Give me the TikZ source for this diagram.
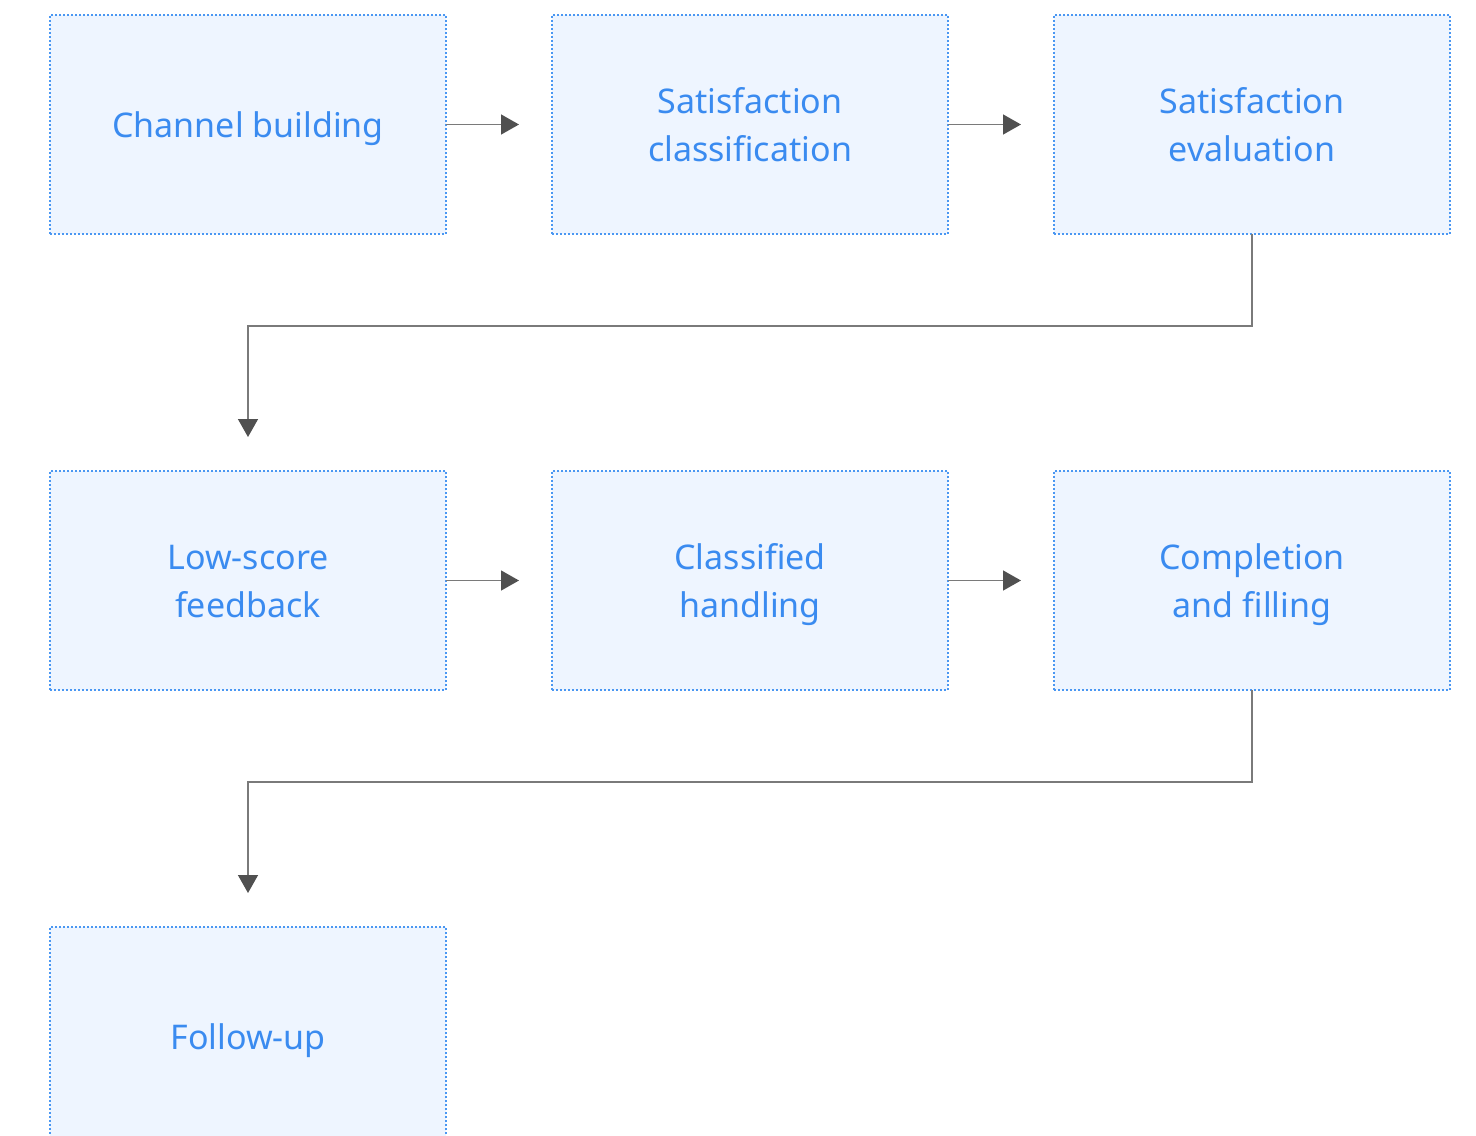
\documentclass[tikz,border=0pt]{standalone}
\usepackage{fontspec}
\setmainfont{Noto Sans}
\usepackage{xcolor}
\usetikzlibrary{arrows.meta, positioning}
\definecolor{boxfill}{HTML}{EEF5FF}
\definecolor{boxline}{HTML}{4A97F2}
\definecolor{boxtext}{HTML}{3A8BF0}
\definecolor{linegray}{HTML}{7A7A7A}
\definecolor{tipgray}{HTML}{505050}
\newcommand{\bstrut}{\rule[-5.7pt]{0pt}{24pt}}

\begin{document}
\begin{tikzpicture}[
  stagebox/.style={rectangle, draw=boxline, fill=boxfill, line width=0.8pt,
              dash pattern=on 1pt off 1pt, outer sep=0pt,
              minimum width=198pt, minimum height=109.5pt,
              align=center, text=boxtext,
              font=\fontsize{17}{24}\selectfont},
  arr/.style={-{Triangle[length=9pt, width=10pt, color=tipgray]}, line width=0.7pt, color=linegray},
  node distance=118.5pt and 53pt
]
\useasboundingbox (0,0) rectangle (738pt,-567.5pt);

% Row 1
\node[stagebox] (channel) at (124pt,-62.25pt) {\bstrut Channel building};
\node[stagebox, right=of channel] (classif) {\bstrut Satisfaction\\classification\bstrut};
\node[stagebox, right=of classif] (evaluation) {\bstrut Satisfaction\\evaluation\bstrut};

% Row 2
\node[stagebox, below=of channel] (lowscore) {\bstrut Low-score\\feedback\bstrut};
\node[stagebox, right=of lowscore] (handling) {\bstrut Classified\\handling\bstrut};
\node[stagebox, right=of handling] (filling) {\bstrut Completion\\and filling\bstrut};

% Row 3
\node[stagebox, below=of lowscore] (followup) {\bstrut Follow-up};

% Arrows
\draw[arr, shorten >=16.5pt] (channel) -- (classif);
\draw[arr, shorten >=16.5pt] (classif) -- (evaluation);
\draw[arr, shorten >=16.5pt] (lowscore) -- (handling);
\draw[arr, shorten >=16.5pt] (handling) -- (filling);

% Row changes
\draw[arr, shorten >=17pt] (evaluation.south) -- ++(0,-46pt) -| (lowscore.north);
\draw[arr, shorten >=17pt] (filling.south) -- ++(0,-46pt) -| (followup.north);

\end{tikzpicture}
\end{document}
